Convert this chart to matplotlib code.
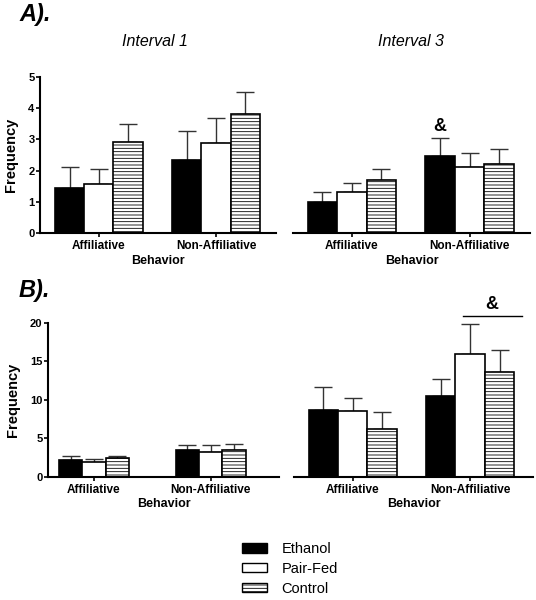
import numpy as np
import matplotlib
matplotlib.use("Agg")
import matplotlib.pyplot as plt
from matplotlib.patches import Patch

plt.rcParams['font.family'] = ['Liberation Sans', 'DejaVu Sans']
plt.rcParams['hatch.linewidth'] = 0.6

# DATA
groups = ['Affiliative', 'Non-Affiliative']
series = ['Ethanol', 'Pair-Fed', 'Control']

# A) interval 1
a1_ethanol = [1.45, 2.33]
a1_ethanol_err = [0.67, 0.95]
a1_pairfed = [1.56, 2.88]
a1_pairfed_err = [0.49, 0.80]
a1_control = [2.91, 3.80]
a1_control_err = [0.57, 0.72]

# A) interval 3
a3_ethanol = [1.00, 2.46]
a3_ethanol_err = [0.33, 0.58]
a3_pairfed = [1.30, 2.12]
a3_pairfed_err = [0.30, 0.44]
a3_control = [1.71, 2.22]
a3_control_err = [0.35, 0.47]

# B) interval 1
b1_ethanol = [2.20, 3.43]
b1_ethanol_err = [0.50, 0.67]
b1_pairfed = [1.87, 3.20]
b1_pairfed_err = [0.39, 0.90]
b1_control = [2.39, 3.50]
b1_control_err = [0.34, 0.70]

# B) interval 3
b3_ethanol = [8.70, 10.50]
b3_ethanol_err = [3.00, 2.20]
b3_pairfed = [8.57, 16.00]
b3_pairfed_err = [1.63, 3.80]
b3_control = [6.23, 13.56]
b3_control_err = [2.17, 2.84]

# styles for the three series
faces = ['black', 'white', 'white']
hatches = [None, None, '-----']

fig = plt.figure(figsize=(5.36, 6.0), dpi=100)

W, H = 536.0, 600.0
axA1 = fig.add_axes([40 / W, 1 - 233 / H, 236 / W, 156 / H])
axA3 = fig.add_axes([293 / W, 1 - 233 / H, 237 / W, 156 / H])
axB1 = fig.add_axes([48 / W, 1 - 476.7 / H, 231 / W, 154 / H])
axB3 = fig.add_axes([294 / W, 1 - 476.7 / H, 239 / W, 154 / H])


def draw_panel(ax, means, errs, centers, xlim, ylim, yticks, show_y):
    centers = np.array(centers, dtype=float)
    for i in range(3):
        x = centers + (i - 1)
        ax.errorbar(x, means[i], yerr=[np.zeros(len(errs[i])), errs[i]],
                    fmt='none', ecolor='#333333', elinewidth=1.0,
                    capsize=6.3, capthick=1.0, zorder=1)
        ax.bar(x, means[i], width=1.0, color=faces[i], edgecolor='black',
               linewidth=1.2, hatch=hatches[i], zorder=2)
    ax.set_xlim(*xlim)
    ax.set_ylim(*ylim)
    ax.set_xticks(centers)
    ax.set_xticklabels(groups, fontsize=8.5, fontweight='bold')
    ax.set_xlabel('Behavior', fontsize=9, fontweight='bold', labelpad=2)
    ax.spines['top'].set_visible(False)
    ax.spines['right'].set_visible(False)
    ax.spines['bottom'].set_linewidth(1.5)
    ax.tick_params(axis='x', length=3, width=1.2, pad=2)
    if show_y:
        ax.spines['left'].set_linewidth(1.5)
        ax.set_yticks(yticks)
        ax.set_yticklabels([str(t) for t in yticks], fontsize=8, fontweight='bold')
        ax.tick_params(axis='y', length=3, width=1.2, pad=1)
        ax.set_ylabel('Frequency', fontsize=10.5, fontweight='bold', labelpad=7)
    else:
        ax.spines['left'].set_visible(False)
        ax.set_yticks([])


draw_panel(axA1, [a1_ethanol, a1_pairfed, a1_control],
           [a1_ethanol_err, a1_pairfed_err, a1_control_err],
           [0, 4], (-2.01, 6.05), (0, 5), [0, 1, 2, 3, 4, 5], True)
draw_panel(axA3, [a3_ethanol, a3_pairfed, a3_control],
           [a3_ethanol_err, a3_pairfed_err, a3_control_err],
           [0, 4], (-2.0, 6.05), (0, 5), [], False)
draw_panel(axB1, [b1_ethanol, b1_pairfed, b1_control],
           [b1_ethanol_err, b1_pairfed_err, b1_control_err],
           [0, 5], (-1.97, 7.93), (0, 20), [0, 5, 10, 15, 20], True)
draw_panel(axB3, [b3_ethanol, b3_pairfed, b3_control],
           [b3_ethanol_err, b3_pairfed_err, b3_control_err],
           [0, 4], (-2.0, 6.14), (0, 20), [], False)

# significance marks
axA3.text(3, 3.42, '&', ha='center', va='center', fontsize=13, fontweight='bold')
axB3.plot([3.74, 5.77], [20.9, 20.9], color='black', lw=1.0, clip_on=False)
axB3.text(4.75, 22.4, '&', ha='center', va='center', fontsize=13,
          fontweight='bold', clip_on=False)

# titles and panel letters
fig.text(155 / W, 1 - 42 / H, 'Interval 1', ha='center', va='center',
         fontsize=11.5, style='italic')
fig.text(411 / W, 1 - 42 / H, 'Interval 3', ha='center', va='center',
         fontsize=11.5, style='italic')
fig.text(19 / W, 1 - 15 / H, 'A).', ha='left', va='center', fontsize=17,
         fontweight='bold', style='italic')
fig.text(19 / W, 1 - 290 / H, 'B).', ha='left', va='center', fontsize=17,
         fontweight='bold', style='italic')

# legend
handles = [Patch(facecolor=faces[i], edgecolor='black', linewidth=1.0,
                 hatch=hatches[i], label=series[i]) for i in range(3)]
fig.legend(handles=handles, loc='center left',
           bbox_to_anchor=(232 / W, 1 - 569 / H), frameon=False,
           fontsize=10.5, handlelength=1.7, handleheight=0.6,
           handletextpad=1.0, labelspacing=0.4, borderpad=0.2)

fig.savefig('out.png', dpi=100)
